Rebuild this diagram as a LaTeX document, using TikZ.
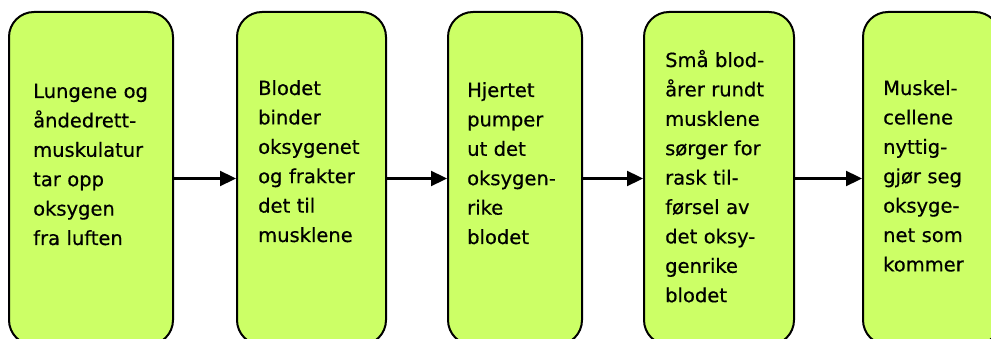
\documentclass[tikz,border=0pt]{standalone}
\usepackage{fontspec}
\setmainfont{DejaVu Sans}
\newfontfamily\stagefont{DejaVu Sans}[FakeBold=0.5]
\usetikzlibrary{arrows.meta}
\definecolor{boxgreen}{HTML}{CCFF66}
\begin{document}
\begin{tikzpicture}[x=1pt,y=-1pt,
  stage/.style={draw=black, line width=2pt, fill=boxgreen, rounded corners=25pt,
    inner sep=0pt, minimum height=333pt},
  txt/.style={anchor=base west, inner sep=0pt, text width=130pt, align=left,
    font=\stagefont\fontsize{19.5}{29.4}\selectfont},
  arr/.style={line width=2.3pt, -{Triangle[length=16pt,width=15pt]}}]
\clip (0,0) rectangle (991,339);
\node[stage, minimum width=164pt] (b1) at (91,178.5) {};
\node[stage, minimum width=149pt] (b2) at (311.5,178.5) {};
\node[stage, minimum width=134pt] (b3) at (515,178.5) {};
\node[stage, minimum width=150pt] (b4) at (719,178.5) {};
\node[stage, minimum width=137pt] (b5) at (931.5,178.5) {};
\node[txt] (t1) at (33,98) {Lungene og\\åndedrett-\\muskulatur\\tar opp\\oksygen\\fra luften};
\node[txt] (t2) at (258,95) {Blodet\\binder\\oksygenet\\og frakter\\det til\\musklene};
\node[txt] (t3) at (467,97) {Hjertet\\pumper\\ut det\\oksygen-\\rike\\blodet};
\node[txt] (t4) at (665,67) {Små blod-\\årer rundt\\musklene\\sørger for\\rask til-\\førsel av\\det oksy-\\genrike\\blodet};
\node[txt] (t5) at (883,95) {Muskel-\\cellene\\nyttig-\\gjør seg\\oksyge-\\net som\\kommer};
\draw[arr] (b1.east) -- (b2.west);
\draw[arr] (b2.east) -- (b3.west);
\draw[arr] (b3.east) -- (b4.west);
\draw[arr] (b4.east) -- (b5.west);
\end{tikzpicture}
\end{document}
